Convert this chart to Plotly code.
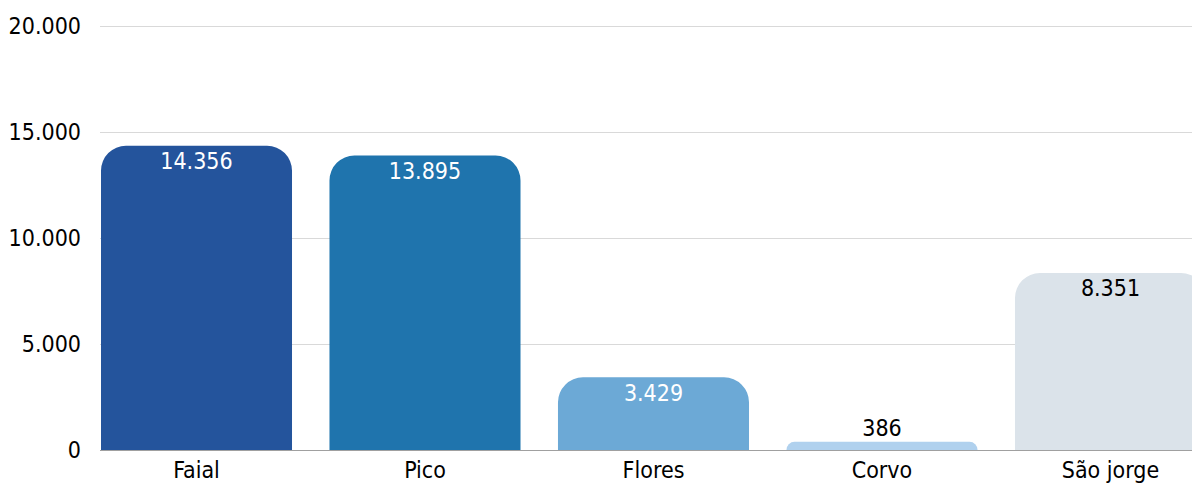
import plotly.graph_objects as go

categories = ["Faial", "Pico", "Flores", "Corvo", "São jorge"]
values = [14356, 13895, 3429, 386, 8351]
colors = ["#24549C", "#1F74AD", "#6CA9D6", "#B0D1EE", "#DBE3EA"]
text_colors = ["white", "white", "white", "black", "black"]
text_positions = ["bottom center", "bottom center", "bottom center", "top center", "bottom center"]
label_pad = [8, 8, 8, 0, 8]
y_ticks = [0, 5000, 10000, 15000, 20000]

FONT = "DejaVu Sans Condensed"
FS = 23

fig = go.Figure()
fig.add_trace(go.Bar(
    x=categories,
    y=values,
    marker=dict(color=colors, line=dict(width=0)),
    width=0.836,
    hoverinfo="skip",
))
fig.add_trace(go.Scatter(
    x=categories,
    y=values,
    mode="markers+text",
    marker=dict(size=label_pad, color="rgba(0,0,0,0)", line=dict(width=0)),
    texttemplate="%{y:,d}",
    textposition=text_positions,
    textfont=dict(family=FONT, size=FS, color=text_colors),
    cliponaxis=False,
    hoverinfo="skip",
))

fig.update_layout(
    width=1192, height=484,
    margin=dict(l=100, r=0, t=24, b=34),
    plot_bgcolor="white", paper_bgcolor="white",
    separators=",.",
    barcornerradius=25,
    showlegend=False,
    font=dict(family=FONT, size=FS, color="black"),
)
fig.update_xaxes(
    range=[-0.4223, 4.3567],
    automargin=False,
    showgrid=False, showline=False, ticks="",
    ticklabelstandoff=4,
    tickfont=dict(family=FONT, size=FS, color="black"),
)
fig.update_yaxes(
    range=[0, 20100],
    automargin=False,
    tickvals=y_ticks,
    tickformat=",d",
    showgrid=True, gridcolor="#D9D9D9", gridwidth=1,
    zeroline=True, zerolinecolor="#A0A0A0", zerolinewidth=1,
    showline=False, ticks="",
    ticklabelstandoff=18,
    tickfont=dict(family=FONT, size=FS, color="black"),
)

fig.write_html("out.html", config={"displayModeBar": False},
               post_script="document.body.style.margin='0';")
